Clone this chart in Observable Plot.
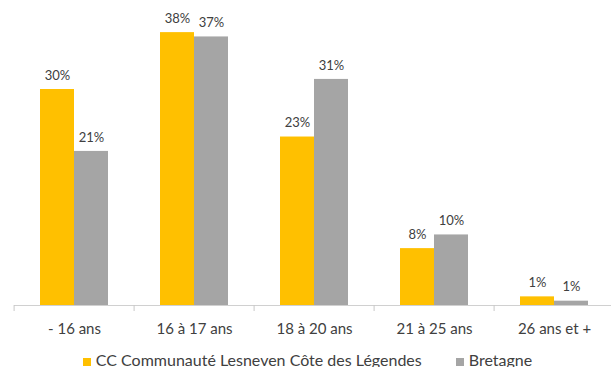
<!DOCTYPE html>
<html>
<head>
<meta charset="utf-8">
<script src="https://cdn.jsdelivr.net/npm/d3@7"></script>
<script src="https://cdn.jsdelivr.net/npm/@observablehq/plot@0.6"></script>
<style>
  body { margin: 0; background: #fff; font-family: Lato, "Open Sans", sans-serif; }
  #legend { display: flex; justify-content: center; align-items: center; gap: 34px; font-size: 16px; color: #404040; height: 28px; margin-left: 4px; }
  #legend span.sw { display: inline-block; width: 8px; height: 8px; margin-right: 5px; }
</style>
</head>
<body>
<div id="chart"></div>
<div id="legend"></div>
<script>
const categories = ["- 16 ans", "16 à 17 ans", "18 à 20 ans", "21 à 25 ans", "26 ans et +"];
const series = ["CC Communauté Lesneven Côte des Légendes", "Bretagne"];
const ccValues = [30.0, 37.9, 23.4, 7.9, 1.2];
const bretagneValues = [21.4, 37.3, 31.4, 9.8, 0.6];
const colors = ["#FFC000", "#A5A5A5"];

const data = [];
categories.forEach((c, i) => {
  data.push({category: c, series: series[0], value: ccValues[i]});
  data.push({category: c, series: series[1], value: bretagneValues[i]});
});

const width = 611, height = 345, marginLeft = 12, marginRight = -5;
const step = (width - marginLeft - marginRight) / categories.length;

const chart = Plot.plot({
  width, height,
  marginTop: 17, marginBottom: 40, marginLeft, marginRight,
  style: {fontFamily: "Lato, 'Open Sans', sans-serif", color: "#404040", background: "#fff"},
  fx: {domain: categories, padding: 0, label: null},
  x: {domain: series, paddingInner: 0, paddingOuter: 0.75, axis: null},
  y: {domain: [0, 40], axis: null},
  color: {domain: series, range: colors},
  marks: [
    Plot.barY(data, {fx: "category", x: "series", y: "value", fill: "series"}),
    Plot.ruleY([0], {stroke: "#D0D0D0"}),
    Plot.text(data, {fx: "category", x: "series", y: "value", text: d => Math.round(d.value) + "%", dy: -14, fontSize: 13, fill: "#404040"}),
    Plot.axisFx({anchor: "bottom", tickSize: 0, tickPadding: 18, fontSize: 15, label: null, fill: "#404040"}),
    Plot.axisFx({anchor: "bottom", tickSize: 6, tickFormat: () => "", label: null, stroke: "#C8C8C8", dx: -step / 2})
  ]
});
document.getElementById("chart").appendChild(chart);

const legend = document.getElementById("legend");
series.forEach((s, i) => {
  const item = document.createElement("div");
  item.innerHTML = `<span class="sw" style="background:${colors[i]}"></span>${s}`;
  legend.appendChild(item);
});
</script>
</body>
</html>
